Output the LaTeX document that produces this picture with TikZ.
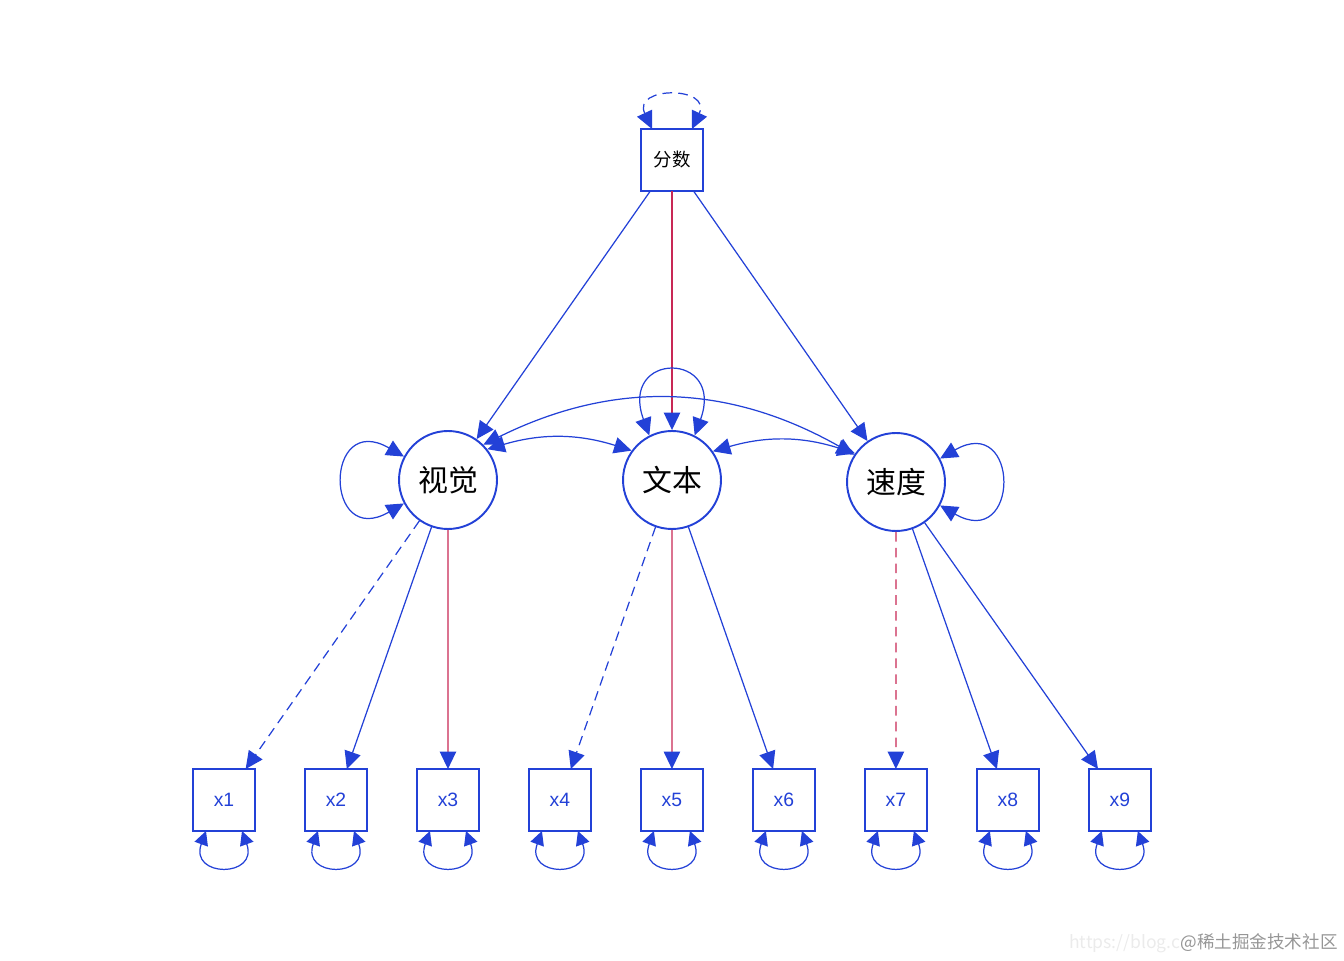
\documentclass[tikz,border=0pt]{standalone}
\usepackage{fontspec}
\setmainfont{Liberation Sans}
\newfontfamily\cjk{Noto Sans CJK SC}
\usetikzlibrary{arrows.meta, positioning}
\definecolor{pathblue}{RGB}{35, 65, 215}
\definecolor{pathred}{RGB}{200, 40, 85}
\definecolor{markgray}{RGB}{150, 150, 150}

\begin{document}
\begin{tikzpicture}[
        x=0.02cm, y=0.02cm,
        node distance=1cm,
        obs/.style={rectangle, draw=pathblue, fill=white, line width=1.1pt, outer sep=0pt, minimum size=1.24cm, inner sep=0pt, text=pathblue, font=\fontsize{11}{13}\selectfont},
        lat/.style={circle, draw=pathblue, fill=white, line width=1.1pt, minimum size=1.96cm, inner sep=0pt, font=\cjk\fontsize{17}{20}\selectfont},
        arrow/.style={-{Triangle[length=3.5mm, width=3.3mm, color=pathblue]}, pathblue, line width=0.7pt},
        redarrow/.style={arrow, draw=pathred},
        twoway/.style={{Triangle[length=3.5mm, width=3.3mm]}-{Triangle[length=3.5mm, width=3.3mm]}, pathblue, line width=0.7pt},
        smallloop/.style={{Triangle[length=2.8mm, width=2.8mm]}-{Triangle[length=2.8mm, width=2.8mm]}, pathblue, line width=0.7pt},
        dashes/.style={dash pattern=on 5.5pt off 3.5pt}
    ]
    \useasboundingbox (0,0) rectangle (1344,960);

    % Top factor
    \node[obs, text=black, font=\cjk\fontsize{10.5}{12}\selectfont] (score) at (672,800) {分数};

    % Latent factors
    \node[lat] (visual) at (448,480) {视觉};
    \node[lat] (text) at (672,480) {文本};
    \node[lat] (speed) at (896,478) {速度};

    % Indicators
    \node[obs] (x1) at (224,160) {x1};
    \node[obs, right=of x1] (x2) {x2};
    \node[obs, right=of x2] (x3) {x3};
    \node[obs, right=of x3] (x4) {x4};
    \node[obs, right=of x4] (x5) {x5};
    \node[obs, right=of x5] (x6) {x6};
    \node[obs, right=of x6] (x7) {x7};
    \node[obs, right=of x7] (x8) {x8};
    \node[obs, right=of x8] (x9) {x9};

    % Second order loadings
    \draw[arrow] (score) -- (visual);
    \draw[redarrow] (score) -- (text);
    \draw[arrow] (score) -- (speed);

    % First order loadings
    \draw[arrow, dashes] (visual) -- (x1);
    \draw[arrow] (visual) -- (x2);
    \draw[redarrow] (visual) -- (x3);
    \draw[arrow, dashes] (text) -- (x4);
    \draw[redarrow] (text) -- (x5);
    \draw[arrow] (text) -- (x6);
    \draw[redarrow, dashes] (speed) -- (x7);
    \draw[arrow] (speed) -- (x8);
    \draw[arrow] (speed) -- (x9);

    % Covariances
    \draw[twoway] (visual.38) to[bend left=17] (text.144);
    \draw[twoway] (text.35) to[bend left=17] (speed.145);
    \draw[twoway] (visual.45) to[bend left=28] (speed.147);

    % Variances
    \draw[twoway, dashes] ([xshift=-0.4cm]score.north) .. controls +(115:0.95cm) and +(65:0.95cm) .. ([xshift=0.4cm]score.north);
    \draw[twoway] (visual.152) .. controls +(150:1.85cm) and +(210:1.85cm) .. (visual.208);
    \draw[twoway] (text.117) .. controls +(110:1.8cm) and +(70:1.8cm) .. (text.63);
    \draw[twoway] (speed.28) .. controls +(30:1.85cm) and +(-30:1.85cm) .. (speed.-28);
    \draw[smallloop] ([xshift=-0.36cm]x1.south) .. controls +(-110:1cm) and +(-70:1cm) .. ([xshift=0.36cm]x1.south);
    \draw[smallloop] ([xshift=-0.36cm]x2.south) .. controls +(-110:1cm) and +(-70:1cm) .. ([xshift=0.36cm]x2.south);
    \draw[smallloop] ([xshift=-0.36cm]x3.south) .. controls +(-110:1cm) and +(-70:1cm) .. ([xshift=0.36cm]x3.south);
    \draw[smallloop] ([xshift=-0.36cm]x4.south) .. controls +(-110:1cm) and +(-70:1cm) .. ([xshift=0.36cm]x4.south);
    \draw[smallloop] ([xshift=-0.36cm]x5.south) .. controls +(-110:1cm) and +(-70:1cm) .. ([xshift=0.36cm]x5.south);
    \draw[smallloop] ([xshift=-0.36cm]x6.south) .. controls +(-110:1cm) and +(-70:1cm) .. ([xshift=0.36cm]x6.south);
    \draw[smallloop] ([xshift=-0.36cm]x7.south) .. controls +(-110:1cm) and +(-70:1cm) .. ([xshift=0.36cm]x7.south);
    \draw[smallloop] ([xshift=-0.36cm]x8.south) .. controls +(-110:1cm) and +(-70:1cm) .. ([xshift=0.36cm]x8.south);
    \draw[smallloop] ([xshift=-0.36cm]x9.south) .. controls +(-110:1cm) and +(-70:1cm) .. ([xshift=0.36cm]x9.south);

    % Watermark
    \node[anchor=east, inner sep=0pt, text=markgray, font=\cjk\fontsize{10}{12}\selectfont] (mark) at (1338,17) {\textcolor{black!8}{https://blog.c}@稀土掘金技术社区};

\end{tikzpicture}
\end{document}
